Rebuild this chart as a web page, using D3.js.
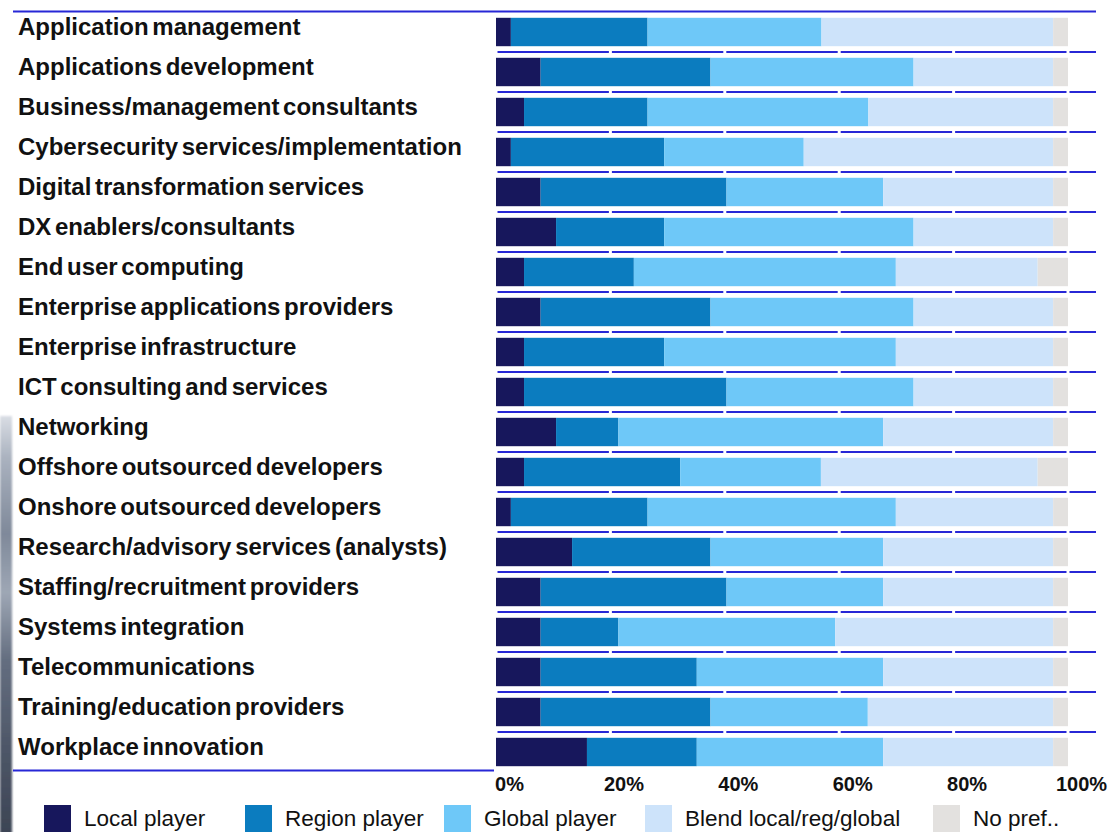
<!DOCTYPE html>
<html>
<head>
<meta charset="utf-8">
<script src="https://cdn.jsdelivr.net/npm/d3@7"></script>
<style>
  html, body { margin: 0; padding: 0; background: #ffffff; }
  svg { display: block; }
</style>
</head>
<body>
<svg id="chart" width="1111" height="832"></svg>
<script>
// Provider categories (top to bottom)
const categories = [
  "Application management",
  "Applications development",
  "Business/management consultants",
  "Cybersecurity services/implementation",
  "Digital transformation services",
  "DX enablers/consultants",
  "End user computing",
  "Enterprise applications providers",
  "Enterprise infrastructure",
  "ICT consulting and services",
  "Networking",
  "Offshore outsourced developers",
  "Onshore outsourced developers",
  "Research/advisory services (analysts)",
  "Staffing/recruitment providers",
  "Systems integration",
  "Telecommunications",
  "Training/education providers",
  "Workplace innovation"
];

// Share of respondents (%) per preference
const localPlayer  = [2.6, 7.8, 4.9, 2.6, 7.8, 10.5, 4.9, 7.8, 4.9, 4.9, 10.5, 4.9, 2.6, 13.3, 7.8, 7.8, 7.8, 7.8, 15.9];
const regionPlayer = [23.9, 29.7, 21.6, 26.8, 32.5, 18.9, 19.2, 29.7, 24.5, 35.4, 10.9, 27.3, 23.9, 24.2, 32.5, 13.6, 27.3, 29.7, 19.2];
const globalPlayer = [30.4, 35.5, 38.6, 24.4, 27.4, 43.6, 45.8, 35.5, 40.5, 32.7, 46.3, 24.6, 43.4, 30.2, 27.4, 37.9, 32.6, 27.5, 32.6];
const blendPlayer  = [40.5, 24.4, 32.3, 43.6, 29.7, 24.4, 24.8, 24.4, 27.5, 24.4, 29.7, 37.9, 27.5, 29.7, 29.7, 38.1, 29.7, 32.4, 29.7];
const noPreference = [2.6, 2.6, 2.6, 2.6, 2.6, 2.6, 5.3, 2.6, 2.6, 2.6, 2.6, 5.3, 2.6, 2.6, 2.6, 2.6, 2.6, 2.6, 2.6];

const seriesNames = ["Local player", "Region player", "Global player", "Blend local/reg/global", "No pref.."];
const tickValues = [0, 20, 40, 60, 80, 100];

// Styling
const seriesColors = ["#17175c", "#0b7cbf", "#6ec8f8", "#cde3fa", "#e3e1df"];
const gridBlue = "#2727d6";
const fontFamily = "'Liberation Sans', Arial, Helvetica, sans-serif";

const columns = [localPlayer, regionPlayer, globalPlayer, blendPlayer, noPreference];
const rows = categories.map((c, i) => {
  const r = { category: c };
  seriesNames.forEach((s, j) => { r[s] = columns[j][i]; });
  return r;
});

const svg = d3.select("#chart");

// Layout
const plotLeft = 496, plotRight = 1068, plotTop = 12, plotBottom = 772;
const lineLeft = 13, lineRight = 1096;

const x = d3.scaleLinear().domain([0, 100]).range([plotLeft, plotRight]);
const y = d3.scaleBand()
  .domain(categories)
  .range([plotTop, plotBottom])
  .paddingInner(0.29)
  .paddingOuter(0.145);

// Photo strip at the left edge
const defs = svg.append("defs");
const grad = defs.append("linearGradient").attr("id", "stripGrad")
  .attr("x1", 0).attr("y1", 0).attr("x2", 0).attr("y2", 1);
[[0, "#d9dde4"], [0.1, "#aab2bf"], [0.28, "#7f899a"], [0.42, "#9ea7b5"], [0.58, "#646e80"], [0.8, "#4d5667"], [1, "#3c4454"]]
  .forEach(([o, c]) => grad.append("stop").attr("offset", o).attr("stop-color", c));
defs.append("filter").attr("id", "soft").append("feGaussianBlur").attr("stdDeviation", 1.2);
svg.append("rect")
  .attr("x", 0).attr("y", 416).attr("width", 12).attr("height", 420)
  .attr("fill", "url(#stripGrad)")
  .attr("filter", "url(#soft)");

// Horizontal category separators (blue) in the bar area
const step = y.step();
const separators = categories.slice(1).map((c) => y(c) - y.paddingInner() * step / 2);
svg.append("g").selectAll("line").data(separators).join("line")
  .attr("x1", plotLeft).attr("x2", lineRight)
  .attr("y1", d => d).attr("y2", d => d)
  .attr("stroke", gridBlue).attr("stroke-width", 2.2);

// White vertical gridlines break the separators at each tick
svg.append("g").selectAll("line").data(tickValues).join("line")
  .attr("x1", d => x(d)).attr("x2", d => x(d))
  .attr("y1", plotTop + 2).attr("y2", plotBottom + 2)
  .attr("stroke", "#ffffff").attr("stroke-width", 3);

// Top and bottom rules
svg.append("line")
  .attr("x1", lineLeft).attr("x2", lineRight)
  .attr("y1", plotTop - 0.5).attr("y2", plotTop - 0.5)
  .attr("stroke", gridBlue).attr("stroke-width", 2);
svg.append("line")
  .attr("x1", lineLeft).attr("x2", plotLeft - 2)
  .attr("y1", plotBottom - 1.5).attr("y2", plotBottom - 1.5)
  .attr("stroke", gridBlue).attr("stroke-width", 2);

// Stacked bars
const stacked = d3.stack().keys(seriesNames)(rows);
svg.append("g").selectAll("g").data(stacked).join("g")
  .attr("fill", (d, i) => seriesColors[i])
  .selectAll("rect").data(d => d).join("rect")
  .attr("x", d => x(d[0]))
  .attr("width", d => x(d[1]) - x(d[0]))
  .attr("y", d => y(d.data.category))
  .attr("height", y.bandwidth());

// Category labels
svg.append("g").selectAll("text").data(categories).join("text")
  .attr("x", 18)
  .attr("y", d => y(d) + y.bandwidth() / 2 + 3)
  .attr("font-family", fontFamily)
  .attr("font-weight", "bold")
  .attr("font-size", 24)
  .attr("word-spacing", -3)
  .attr("fill", "#111111")
  .text(d => d);

// Value axis
const axis = d3.axisBottom(x)
  .tickValues(tickValues)
  .tickFormat(d => d + "%")
  .tickSize(0)
  .tickPadding(5);
const axisG = svg.append("g")
  .attr("transform", `translate(0,${plotBottom})`)
  .call(axis);
axisG.select(".domain").remove();
axisG.selectAll("text")
  .attr("dx", 13)
  .attr("font-family", fontFamily)
  .attr("font-weight", "bold")
  .attr("font-size", 20)
  .attr("fill", "#111111");

// Legend
const legendX = [44, 245, 444, 645, 933];
const legend = svg.append("g").selectAll("g").data(seriesNames).join("g")
  .attr("transform", (d, i) => `translate(${legendX[i]},805)`);
legend.append("rect")
  .attr("width", 27).attr("height", 30)
  .attr("fill", (d, i) => seriesColors[i]);
legend.append("text")
  .attr("x", 40).attr("y", 21)
  .attr("font-family", fontFamily)
  .attr("font-size", 22.5)
  .attr("fill", "#111111")
  .text(d => d);
</script>
</body>
</html>
